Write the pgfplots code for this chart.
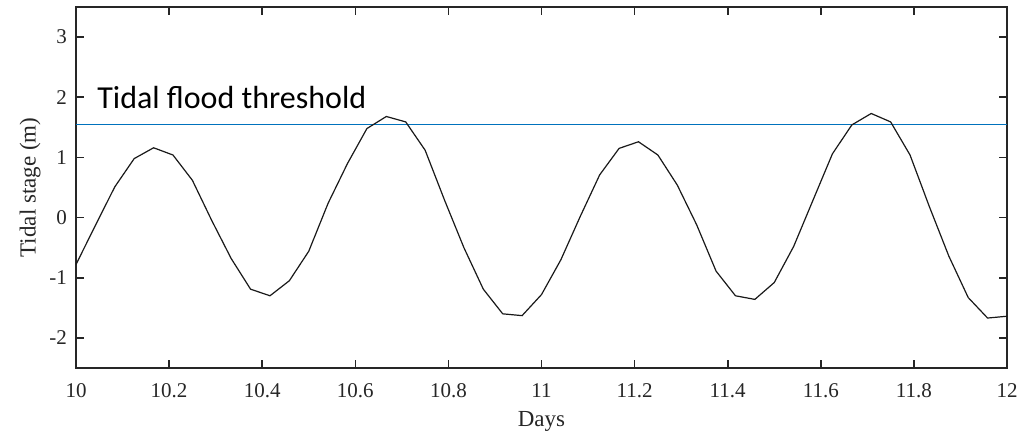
\documentclass[border=0pt]{standalone}
\usepackage{fontspec}
\setmainfont{Liberation Serif}
\newfontfamily\calibrifont{Carlito}
\usepackage{pgfplots}
\pgfplotsset{compat=1.18}
\definecolor{mblue}{RGB}{0,114,189}
\begin{document}
\begin{tikzpicture}
\begin{axis}[
  name=ax,
  scale only axis,
  width=465.5pt, height=180.5pt,
  xmin=10, xmax=12, ymin=-2.5, ymax=3.5,
  xtick={10,10.2,10.4,10.6,10.8,11,11.2,11.4,11.6,11.8,12},
  xticklabels={10,10.2,10.4,10.6,10.8,11,11.2,11.4,11.6,11.8,12},
  ytick={-2,-1,0,1,2,3},
  yticklabels={-2,-1,0,1,2,3},
  tick align=inside,
  major tick length=4pt,
  axis line style={line width=0.8pt, black!85},
  every tick/.style={line width=0.8pt, black!85},
  tick label style={font=\fontsize{10.5}{12}\selectfont, text=black!85},
  xticklabel style={anchor=base, yshift=-15pt},
  yticklabel style={xshift=-1pt},
  xlabel={Days},
  ylabel={Tidal stage (m)},
  label style={font=\fontsize{11.5}{13}\selectfont, text=black!85},
  xlabel style={at={(axis description cs:0.5,0)}, anchor=base, yshift=-29.5pt},
  ylabel style={at={(axis description cs:-0.0494,0.5)}, anchor=center, rotate=0},
  clip=true,
]
\addplot[mblue, line width=0.7pt] coordinates {(10,1.55) (12,1.55)};
\addplot[black!90, line width=0.6pt] coordinates {
(10.0000,-0.78) (10.0417,-0.13) (10.0833,0.51) (10.1250,0.98) (10.1667,1.16)
(10.2083,1.04) (10.2500,0.62) (10.2917,-0.05) (10.3333,-0.68) (10.3750,-1.19)
(10.4167,-1.30) (10.4583,-1.05) (10.5000,-0.56) (10.5417,0.24) (10.5833,0.90)
(10.6250,1.48) (10.6667,1.68) (10.7083,1.59) (10.7500,1.12) (10.7917,0.29)
(10.8333,-0.50) (10.8750,-1.19) (10.9167,-1.60) (10.9583,-1.63) (11.0000,-1.28)
(11.0417,-0.70) (11.0833,0.02) (11.1250,0.71) (11.1667,1.15) (11.2083,1.26)
(11.2500,1.04) (11.2917,0.54) (11.3333,-0.12) (11.3750,-0.89) (11.4167,-1.30)
(11.4583,-1.36) (11.5000,-1.08) (11.5417,-0.48) (11.5833,0.29) (11.6250,1.06)
(11.6667,1.54) (11.7083,1.73) (11.7500,1.59) (11.7917,1.04) (11.8333,0.18)
(11.8750,-0.64) (11.9167,-1.33) (11.9583,-1.67) (12.0000,-1.64)
};
\node[anchor=base west, inner sep=0pt, font=\calibrifont\fontsize{16}{19}\selectfont] at (axis cs:10.045,1.81) {Tidal flood threshold};
\end{axis}
\pgfresetboundingbox
\path ([xshift=-38pt,yshift=-33.5pt]ax.south west) rectangle ([xshift=5.5pt,yshift=3.5pt]ax.north east);
\end{tikzpicture}
\end{document}
